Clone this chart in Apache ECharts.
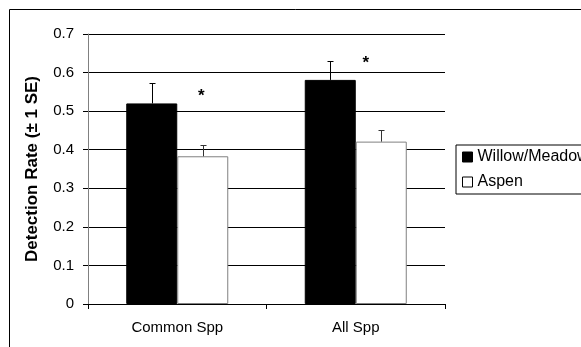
<!DOCTYPE html>
<html><head><meta charset="utf-8">
<script src="https://cdn.jsdelivr.net/npm/echarts@6/dist/echarts.min.js"></script>
<style>html,body{margin:0;padding:0;background:#fff}#c{width:581px;height:347px}</style>
</head><body><div id="c"></div>
<script>
const categories = ['Common Spp', 'All Spp'];
const willowMeadow = [0.52, 0.581];
const willowSE = [0.052, 0.049];
const aspen = [0.383, 0.421];
const aspenSE = [0.028, 0.030];
const yTicks = [0, 0.1, 0.2, 0.3, 0.4, 0.5, 0.6, 0.7];
const starValues = [0.55, 0.635];
const starOffsets = [24, 10];

const BAR_W = 51;
const FONT = 'Liberation Sans, Arial, sans-serif';

function errSeries(name, vals, ses, dx, color) {
  return {
    type: 'custom', name: name + 'err', silent: true, z: 5,
    data: vals.map((v, i) => [i, v, v + ses[i]]),
    renderItem: (params, api) => {
      const p0 = api.coord([api.value(0), api.value(1)]);
      const p1 = api.coord([api.value(0), api.value(2)]);
      const x = Math.round(p0[0] + dx) + 0.5;
      const yTop = Math.round(p1[1]) + 0.5;
      return { type: 'group', children: [
        { type: 'line', shape: { x1: x, y1: p0[1], x2: x, y2: yTop }, style: { stroke: color, lineWidth: 1 } },
        { type: 'line', shape: { x1: x - 3, y1: yTop, x2: x + 3, y2: yTop }, style: { stroke: color, lineWidth: 1 } }
      ]};
    }
  };
}

const chart = echarts.init(document.getElementById('c'), null, { renderer: 'canvas' });
chart.setOption({
  animation: false,
  backgroundColor: '#fff',
  textStyle: { fontFamily: FONT },
  graphic: [{ type: 'rect', shape: { x: 9.5, y: 9.5, width: 700, height: 500 }, style: { fill: 'none', stroke: '#000', lineWidth: 1 }, z: 100 }],
  grid: { left: 88, top: 34, right: 136, bottom: 43, containLabel: false },
  legend: {
    orient: 'vertical', left: 456, top: 145,
    borderColor: '#000', borderWidth: 1, padding: [4, 40, 4, 6],
    itemWidth: 10, itemHeight: 10, itemGap: 9,
    textStyle: { fontSize: 16, color: '#000', fontFamily: FONT },
    data: [
      { name: 'Willow/Meadow', icon: 'rect', itemStyle: { color: '#000', borderColor: '#000', borderWidth: 1 } },
      { name: 'Aspen', icon: 'rect', itemStyle: { color: '#fff', borderColor: '#000', borderWidth: 1 } }
    ]
  },
  xAxis: {
    type: 'category', data: categories,
    axisLine: { lineStyle: { color: '#000', width: 1 } },
    axisTick: { show: true, length: 5, lineStyle: { color: '#000' } },
    axisLabel: { fontSize: 15, color: '#000', margin: 16, fontFamily: FONT },
    splitLine: { show: false }
  },
  yAxis: {
    type: 'value', min: 0, max: 0.7, interval: 0.1,
    name: 'Detection Rate (± 1 SE)', nameLocation: 'middle', nameGap: 47,
    nameTextStyle: { fontSize: 17, fontWeight: 'bold', color: '#000', fontFamily: FONT },
    axisLine: { show: true, lineStyle: { color: '#808080', width: 1 } },
    axisTick: { show: true, length: 5, lineStyle: { color: '#000' } },
    axisLabel: { fontSize: 15, color: '#000', margin: 14, fontFamily: FONT,
      formatter: v => { const t = yTicks.find(k => Math.abs(k - v) < 1e-9); return t === 0 ? '0' : String(t); } },
    splitLine: { show: true, lineStyle: { color: '#000', width: 1 } }
  },
  series: [
    { name: 'Willow/Meadow', type: 'bar', data: willowMeadow, barWidth: BAR_W, barGap: '0%',
      itemStyle: { color: '#000', borderColor: '#000', borderWidth: 1 }, z: 3 },
    { name: 'Aspen', type: 'bar', data: aspen, barWidth: BAR_W, barGap: '0%',
      itemStyle: { color: '#fff', borderColor: '#808080', borderWidth: 1 }, z: 3 },
    errSeries('Willow/Meadow', willowMeadow, willowSE, -BAR_W / 2, '#000'),
    errSeries('Aspen', aspen, aspenSE, BAR_W / 2, '#333'),
    { type: 'custom', name: 'stars', silent: true, z: 6,
      data: starValues.map((v, i) => [i, v]),
      renderItem: (params, api) => {
        const p = api.coord([api.value(0), api.value(1)]);
        return { type: 'text', style: { text: '*', x: p[0] + starOffsets[params.dataIndex], y: p[1] + 4,
          align: 'center', verticalAlign: 'middle', fontSize: 17, fontWeight: 'bold', fill: '#000', fontFamily: FONT } };
      } }
  ]
});
</script></body></html>
